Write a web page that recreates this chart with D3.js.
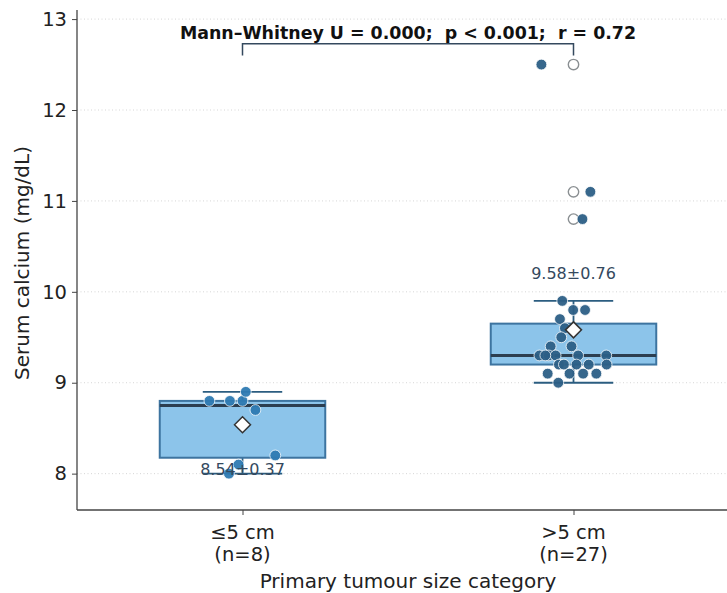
<!DOCTYPE html>
<html><head><meta charset="utf-8">
<script src="https://cdn.jsdelivr.net/npm/d3@7"></script>
<style>
body{margin:0;background:#fff;}
svg{display:block;font-family:"DejaVu Sans",sans-serif;}
text{white-space:pre;}
</style></head>
<body><svg id="c" width="727" height="593"></svg>
<script>
// ---- data ----
const categories = ["≤5 cm", ">5 cm"];
const counts = [8, 27];
const valuesSmall = [8.8, 8.8, 8.8, 8.9, 8.7, 8.2, 8.1, 8.0];
const jitterSmall = [-0.10, -0.038, 0.0, 0.01, 0.039, 0.099, -0.012, -0.041];
const valuesLarge = [9.9, 9.8, 9.8, 9.7, 9.6, 9.5, 9.4, 9.4, 9.3, 9.3, 9.3, 9.3, 9.3, 9.3,
  9.2, 9.2, 9.2, 9.2, 9.2, 9.1, 9.1, 9.1, 9.1, 9.0, 12.5, 11.1, 10.8];
const jitterLarge = [-0.034, -0.001, 0.035, -0.041, -0.026, -0.037, -0.069, -0.006, -0.103, -0.075, -0.054, 0.014, 0.099, -0.085,
  -0.044, -0.029, 0.009, 0.046, 0.1, -0.078, -0.012, 0.029, 0.069, -0.046, -0.097, 0.051, 0.027];
const meanSdLabels = ["8.54±0.37", "9.58±0.76"];
const labelAt = [8.04, 10.19];
const yTicks = [8, 9, 10, 11, 12, 13];
const statText = "Mann–Whitney U = 0.000;  p < 0.001;  r = 0.72";
const bracketAt = [12.6, 12.73];

const groups = [
  {cat: categories[0], n: counts[0], vals: valuesSmall, jit: jitterSmall, pt: "#2f7bb3"},
  {cat: categories[1], n: counts[1], vals: valuesLarge, jit: jitterLarge, pt: "#2d5f86"}
];

// ---- layout ----
const svg = d3.select("#c");
const L = 77, R = 739, T = 10, B = 510;
const x = d3.scaleLinear().domain([-0.5, 1.5]).range([L, R]);
const y = d3.scaleLinear().domain([7.6, 13.1]).range([B, T]);

// grid
svg.append("g").selectAll("line").data(yTicks).join("line")
  .attr("x1", L).attr("x2", 727).attr("y1", d => y(d)).attr("y2", d => y(d))
  .attr("stroke", "#cccccc").attr("stroke-width", 0.8).attr("stroke-dasharray", "1,2.5");

// stats
groups.forEach((g, i) => {
  const s = g.vals.slice().sort(d3.ascending);
  const q1 = d3.quantile(s, 0.25), med = d3.quantile(s, 0.5), q3 = d3.quantile(s, 0.75);
  const iqr = q3 - q1;
  const lo = d3.min(s.filter(v => v >= q1 - 1.5 * iqr));
  const hi = d3.max(s.filter(v => v <= q3 + 1.5 * iqr));
  Object.assign(g, {q1, med, q3, lo, hi, mean: d3.mean(s), out: s.filter(v => v < lo || v > hi)});
});

const bw = 0.25, cw = 0.12;
groups.forEach((g, i) => {
  const gg = svg.append("g");
  const wc = "#2b5d80";
  // whiskers
  gg.append("line").attr("x1", x(i)).attr("x2", x(i)).attr("y1", y(g.q3)).attr("y2", y(g.hi)).attr("stroke", wc).attr("stroke-width", 1.8);
  gg.append("line").attr("x1", x(i)).attr("x2", x(i)).attr("y1", y(g.q1)).attr("y2", y(g.lo)).attr("stroke", wc).attr("stroke-width", 1.8);
  gg.append("line").attr("x1", x(i - cw)).attr("x2", x(i + cw)).attr("y1", y(g.hi)).attr("y2", y(g.hi)).attr("stroke", wc).attr("stroke-width", 1.8);
  gg.append("line").attr("x1", x(i - cw)).attr("x2", x(i + cw)).attr("y1", y(g.lo)).attr("y2", y(g.lo)).attr("stroke", wc).attr("stroke-width", 1.8);
  // box
  gg.append("rect").attr("x", x(i - bw)).attr("width", x(i + bw) - x(i - bw))
    .attr("y", y(g.q3)).attr("height", y(g.q1) - y(g.q3))
    .attr("fill", "#8cc4ea").attr("stroke", "#3d74a0").attr("stroke-width", 2);
  gg.append("line").attr("x1", x(i - bw)).attr("x2", x(i + bw)).attr("y1", y(g.med)).attr("y2", y(g.med))
    .attr("stroke", "#2c3e50").attr("stroke-width", 3);
  // outliers (open)
  gg.selectAll(".fl").data(g.out).join("circle").attr("cx", x(i)).attr("cy", d => y(d)).attr("r", 5.2)
    .attr("fill", "#fff").attr("stroke", "#8a8f92").attr("stroke-width", 1.4);
  // points
  gg.selectAll(".pt").data(g.vals.map((v, k) => [v, g.jit[k]])).join("circle")
    .attr("cx", d => x(i + d[1])).attr("cy", d => y(d[0])).attr("r", 5.4)
    .attr("fill", g.pt).attr("stroke", "#ffffff").attr("stroke-width", 0.8).attr("opacity", 0.95);
  // mean diamond
  const my = y(g.mean), mx = x(i), ds = 8;
  gg.append("path").attr("d", `M${mx},${my - ds}L${mx + ds},${my}L${mx},${my + ds}L${mx - ds},${my}Z`)
    .attr("fill", "#fff").attr("stroke", "#333").attr("stroke-width", 1.5);
  // label
  gg.append("text").attr("x", x(i)).attr("y", y(labelAt[i])).attr("text-anchor", "middle")
    .attr("dominant-baseline", "middle").attr("font-size", 16).attr("fill", "#34495e").text(meanSdLabels[i]);
});

// bracket
svg.append("path")
  .attr("d", `M${x(0)},${y(bracketAt[0])}V${y(bracketAt[1])}H${x(1)}V${y(bracketAt[0])}`)
  .attr("fill", "none").attr("stroke", "#34495e").attr("stroke-width", 1.5);
svg.append("text").attr("x", (x(0) + x(1)) / 2).attr("y", 39).attr("text-anchor", "middle")
  .attr("font-size", 17.4).attr("font-weight", "bold").attr("fill", "#111").text(statText);

// axes
const ya = svg.append("g").attr("transform", `translate(${L},0)`)
  .call(d3.axisLeft(y).tickValues(yTicks).tickSize(5).tickPadding(5).tickFormat(d3.format("d")));
ya.select(".domain").attr("stroke", "#444").attr("stroke-width", 1.3).attr("d", `M0,${T}V${B}`);
ya.selectAll(".tick line").attr("stroke", "#444");
ya.selectAll("text").attr("font-size", 19.5).attr("fill", "#222").attr("font-family", "DejaVu Sans");

const xa = svg.append("g").attr("transform", `translate(0,${B})`)
  .call(d3.axisBottom(x).tickValues([0, 1]).tickSize(5).tickFormat(""));
xa.select(".domain").attr("stroke", "#444").attr("stroke-width", 1.3).attr("d", `M${L},0H727`);
xa.selectAll(".tick line").attr("stroke", "#444");
groups.forEach((g, i) => {
  const t = svg.append("text").attr("x", x(i)).attr("text-anchor", "middle").attr("font-size", 19.5).attr("fill", "#222");
  t.append("tspan").attr("x", x(i)).attr("y", 539).text(g.cat);
  t.append("tspan").attr("x", x(i)).attr("y", 561).text(`(n=${g.n})`);
});

svg.append("text").attr("x", (L + 739) / 2).attr("y", 588).attr("text-anchor", "middle")
  .attr("font-size", 20).attr("fill", "#222").text("Primary tumour size category");
svg.append("text").attr("transform", `translate(29,${(T + B) / 2 + 3}) rotate(-90)`).attr("text-anchor", "middle")
  .attr("font-size", 20).attr("fill", "#222").text("Serum calcium (mg/dL)");
</script></body></html>
